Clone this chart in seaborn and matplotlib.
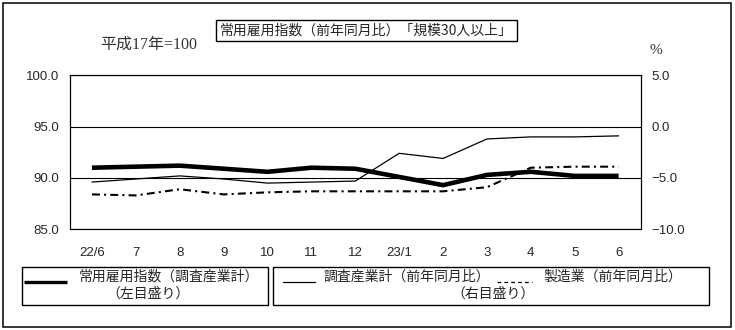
import matplotlib
matplotlib.use("Agg")
import matplotlib.pyplot as plt
from matplotlib.patches import Rectangle
from matplotlib.lines import Line2D
from matplotlib.ticker import FixedLocator, FuncFormatter
import seaborn as sns
import pandas as pd

# Monthly data (June 2010 - June 2011)
months = ["22/6", "7", "8", "9", "10", "11", "12", "23/1", "2", "3", "4", "5", "6"]
employment_index = [91.0, 91.1, 91.2, 90.9, 90.6, 91.0, 90.9, 90.1, 89.3, 90.3, 90.6, 90.2, 90.2]
all_industries_yoy = [-5.4, -5.1, -4.8, -5.1, -5.5, -5.4, -5.3, -2.6, -3.1, -1.2, -1.0, -1.0, -0.9]
manufacturing_yoy = [-6.6, -6.7, -6.1, -6.6, -6.4, -6.3, -6.3, -6.3, -6.3, -5.9, -4.0, -3.9, -3.9]

left_ticks = [85.0, 90.0, 95.0, 100.0]
right_ticks = [-10.0, -5.0, 0.0, 5.0]

df = pd.DataFrame({
    "pos": range(len(months)),
    "index": employment_index,
    "all": all_industries_yoy,
    "mfg": manufacturing_yoy,
})

sns.set_style("white")
plt.rcParams["font.family"] = ["Liberation Sans", "Noto Sans CJK JP"]
jp = ["Noto Sans CJK JP", "DejaVu Sans"]

W, H = 735, 330
fig = plt.figure(figsize=(W / 100, H / 100), dpi=100)


def fx(x):
    return x / W


def fy(y):
    return 1 - y / H


ax = fig.add_axes([fx(70), fy(229.3), (640.6 - 70) / W, (229.3 - 75.3) / H])
ax2 = ax.twinx()

# left scale: employment index
sns.lineplot(data=df, x="pos", y="index", ax=ax, color="black", lw=3.3,
             solid_joinstyle="round", solid_capstyle="butt", zorder=3)
# right scale: year-on-year change
sns.lineplot(data=df, x="pos", y="all", ax=ax2, color="black", lw=0.9)
sns.lineplot(data=df, x="pos", y="mfg", ax=ax2, color="black", lw=1.5,
             linestyle=(0, (3.8, 2.0, 1.0, 2.0)))

ax.set_xlim(-0.5, len(months) - 0.5)
ax.set_ylim(85, 100)
ax2.set_ylim(-10, 5)

ax.set_yticks(left_ticks)
ax.yaxis.set_major_formatter(FuncFormatter(lambda v, p: f"{v:.1f}"))
ax2.set_yticks(right_ticks)
ax2.yaxis.set_major_formatter(FuncFormatter(lambda v, p: f"{v:.1f}".replace("-", "\u2212")))

ax.set_xticks(range(len(months)))
ax.set_xticklabels(months)
ax.xaxis.set_minor_locator(FixedLocator([i + 0.5 for i in range(len(months) - 1)]))
ax.tick_params(axis="x", which="major", length=0, pad=13, labelsize=9.5)
ax.tick_params(axis="x", which="minor", length=3.4, width=0.8, direction="in", color="black")
ax.tick_params(axis="y", length=0, pad=8, labelsize=9.5)
ax2.tick_params(axis="y", length=0, pad=8, labelsize=9.5)

ax.grid(axis="y", color="black", lw=0.8)
ax.grid(axis="x", visible=False)
ax2.grid(False)
for a in (ax, ax2):
    a.set_xlabel("")
    a.set_ylabel("")
    for s in a.spines.values():
        s.set_color("black")
        s.set_linewidth(0.8)

# outer frame
fig.patches.append(Rectangle((fx(3), fy(327)), fx(728), 324 / H, transform=fig.transFigure,
                             fill=False, ec="black", lw=1.1))

# title box
fig.patches.append(Rectangle((fx(216), fy(41)), fx(301), 21 / H, transform=fig.transFigure,
                             fill=False, ec="black", lw=1.0))
fig.text(fx(366.5), fy(30.5), "常用雇用指数（前年同月比）「規模30人以上」", family=jp,
         fontsize=10, ha="center", va="center")

fig.text(fx(100), fy(45), "平成17年=100", family=["Liberation Serif", "Noto Sans CJK JP"],
         fontsize=11.5, ha="left", va="center", color="#333333")
fig.text(fx(649), fy(51), "%", family=["Liberation Serif"], fontsize=11,
         ha="left", va="center", color="#333333")

# legend boxes
fig.patches.append(Rectangle((fx(21.7), fy(305.3)), (268.3 - 21.7) / W, 38 / H,
                             transform=fig.transFigure, fill=False, ec="black", lw=1.0))
fig.patches.append(Rectangle((fx(273.3), fy(305.3)), (709.3 - 273.3) / W, 38 / H,
                             transform=fig.transFigure, fill=False, ec="black", lw=1.0))

fig.lines.append(Line2D([fx(24), fx(67)], [fy(282.3), fy(282.3)], transform=fig.transFigure,
                        color="black", lw=2.4, solid_capstyle="butt"))
fig.lines.append(Line2D([fx(283), fx(315)], [fy(282.3), fy(282.3)], transform=fig.transFigure,
                        color="black", lw=0.9))
fig.lines.append(Line2D([fx(497), fx(532)], [fy(282), fy(282)], transform=fig.transFigure,
                        color="black", lw=0.9, linestyle=(0, (3.0, 2.5))))

fig.text(fx(78.7), fy(276.7), "常用雇用指数（調査産業計）", family=jp, fontsize=10,
         ha="left", va="center")
fig.text(fx(147.5), fy(293.3), "（左目盛り）", family=jp, fontsize=10,
         ha="center", va="center")
fig.text(fx(323), fy(276.7), "調査産業計（前年同月比）", family=jp, fontsize=10,
         ha="left", va="center")
fig.text(fx(543), fy(276.7), "製造業（前年同月比）", family=jp, fontsize=10,
         ha="left", va="center")
fig.text(fx(493.5), fy(293.3), "（右目盛り）", family=jp, fontsize=10,
         ha="center", va="center")

fig.savefig("out.png", dpi=100)
